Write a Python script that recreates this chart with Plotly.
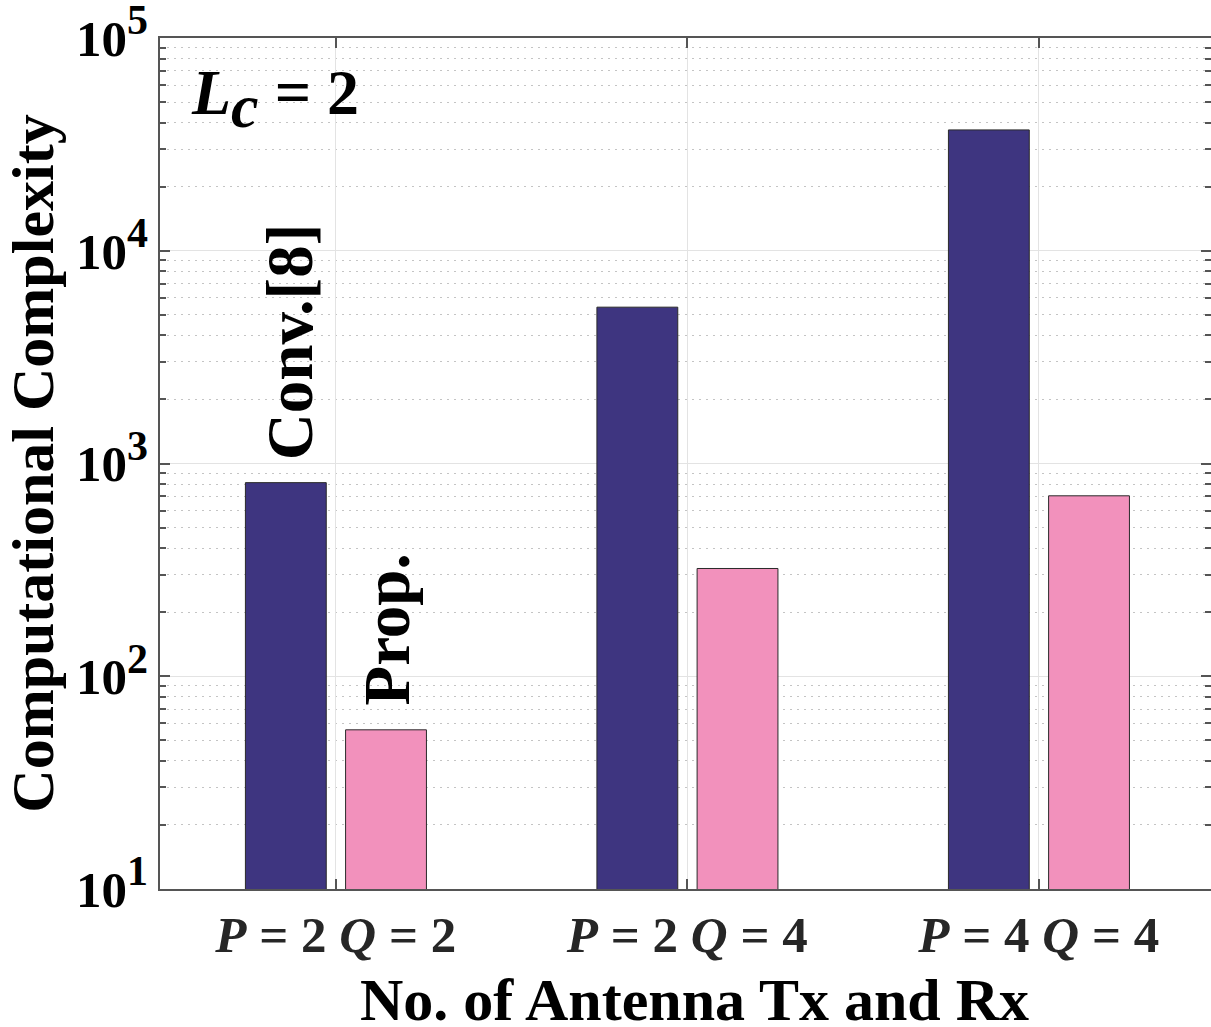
import math
import plotly.graph_objects as go

# Antenna configurations (x categories) and their tick labels
configs = [1, 2, 3]
config_labels = [
    "<i>P</i> = 2 <i>Q</i> = 2",
    "<i>P</i> = 2 <i>Q</i> = 4",
    "<i>P</i> = 4 <i>Q</i> = 4",
]

# Log-axis decades and their exponents
decades = [10, 100, 1000, 10000, 100000]
exponents = [1, 2, 3, 4, 5]
decade_labels = [
    "10<sup><span style='font-size:42px'>%d</span></sup>" % e for e in exponents
]

# Computational complexity for each scheme
conv_complexity = [813, 5430, 36980]
prop_complexity = [56, 321, 705]

FONT = "Liberation Serif"
BAR_W = 0.23

fig = go.Figure()
fig.add_trace(go.Bar(
    x=configs, y=conv_complexity, name="Conv.[8]",
    width=BAR_W, offset=-0.257,
    marker=dict(color="#3e3580", line=dict(color="#2a2a2a", width=1)),
))
fig.add_trace(go.Bar(
    x=configs, y=prop_complexity, name="Prop.",
    width=BAR_W, offset=0.028,
    marker=dict(color="#f291bc", line=dict(color="#2a2a2a", width=1)),
))

axis_line = "#555555"

fig.update_layout(
    width=1211, height=1027,
    margin=dict(l=160, r=0, t=38, b=138),
    paper_bgcolor="white", plot_bgcolor="white",
    showlegend=False,
    barmode="overlay",
    font=dict(family=FONT, color="#000000"),
    xaxis=dict(
        range=[0.5, 3.49], automargin=False,
        tickmode="array", tickvals=configs, ticktext=config_labels,
        tickfont=dict(family=FONT, size=51, color="#262626", weight="bold"),
        ticks="inside", ticklen=10, tickcolor=axis_line, tickwidth=1.5,
        showline=True, linecolor=axis_line, linewidth=1.5, mirror="ticks",
        showgrid=True, gridcolor="#e3e3e3", gridwidth=1.2,
        zeroline=False,
    ),
    yaxis=dict(
        type="log", range=[1, 5], automargin=False,
        tickmode="array", tickvals=decades, ticktext=decade_labels,
        ticklabeloverflow="allow",
        tickfont=dict(family=FONT, size=51, color="#000000", weight="bold"),
        ticks="inside", ticklen=10, tickcolor=axis_line, tickwidth=1.5,
        showline=True, linecolor=axis_line, linewidth=1.5, mirror="ticks",
        showgrid=True, gridcolor="#e3e3e3", gridwidth=1.2,
        minor=dict(dtick="D1", ticks="inside", ticklen=6, tickcolor=axis_line,
                   showgrid=True, gridcolor="#c4c4c4", griddash="2px,5px",
                   gridwidth=1),
        title=dict(text="Computational Complexity",
                   font=dict(family=FONT, size=60, color="#000000", weight="bold"),
                   standoff=12),
        zeroline=False,
    ),
)

# X-axis title
fig.add_annotation(
    x=0.509, y=-0.1304, xref="paper", yref="paper",
    text="No. of Antenna Tx and Rx", showarrow=False,
    xanchor="center", yanchor="middle",
    font=dict(family=FONT, size=60, color="#000000", weight="bold"),
)

# Scheme labels written vertically above the first pair of bars
fig.add_annotation(
    x=1 - 0.13, y=math.log10(conv_complexity[0]), xref="x", yref="y",
    text="Conv.[8]", textangle=-90, showarrow=False,
    xanchor="center", yanchor="bottom", yshift=20,
    font=dict(family=FONT, size=65, color="#000000", weight="bold"),
)
fig.add_annotation(
    x=1 + 0.145, y=math.log10(prop_complexity[0]), xref="x", yref="y",
    text="Prop.", textangle=-90, showarrow=False,
    xanchor="center", yanchor="bottom", yshift=22,
    font=dict(family=FONT, size=65, color="#000000", weight="bold"),
)
# Channel-length note in the upper left corner
fig.add_annotation(
    x=0.028, y=0.929, xref="paper", yref="paper",
    text=("<i>L</i><sub><span style='font-size:62px;font-style:italic'>c</span>"
          "</sub> = 2"),
    showarrow=False,
    xanchor="left", yanchor="middle",
    font=dict(family=FONT, size=64, color="#000000", weight="bold"),
)

fig.write_html("out.html")
